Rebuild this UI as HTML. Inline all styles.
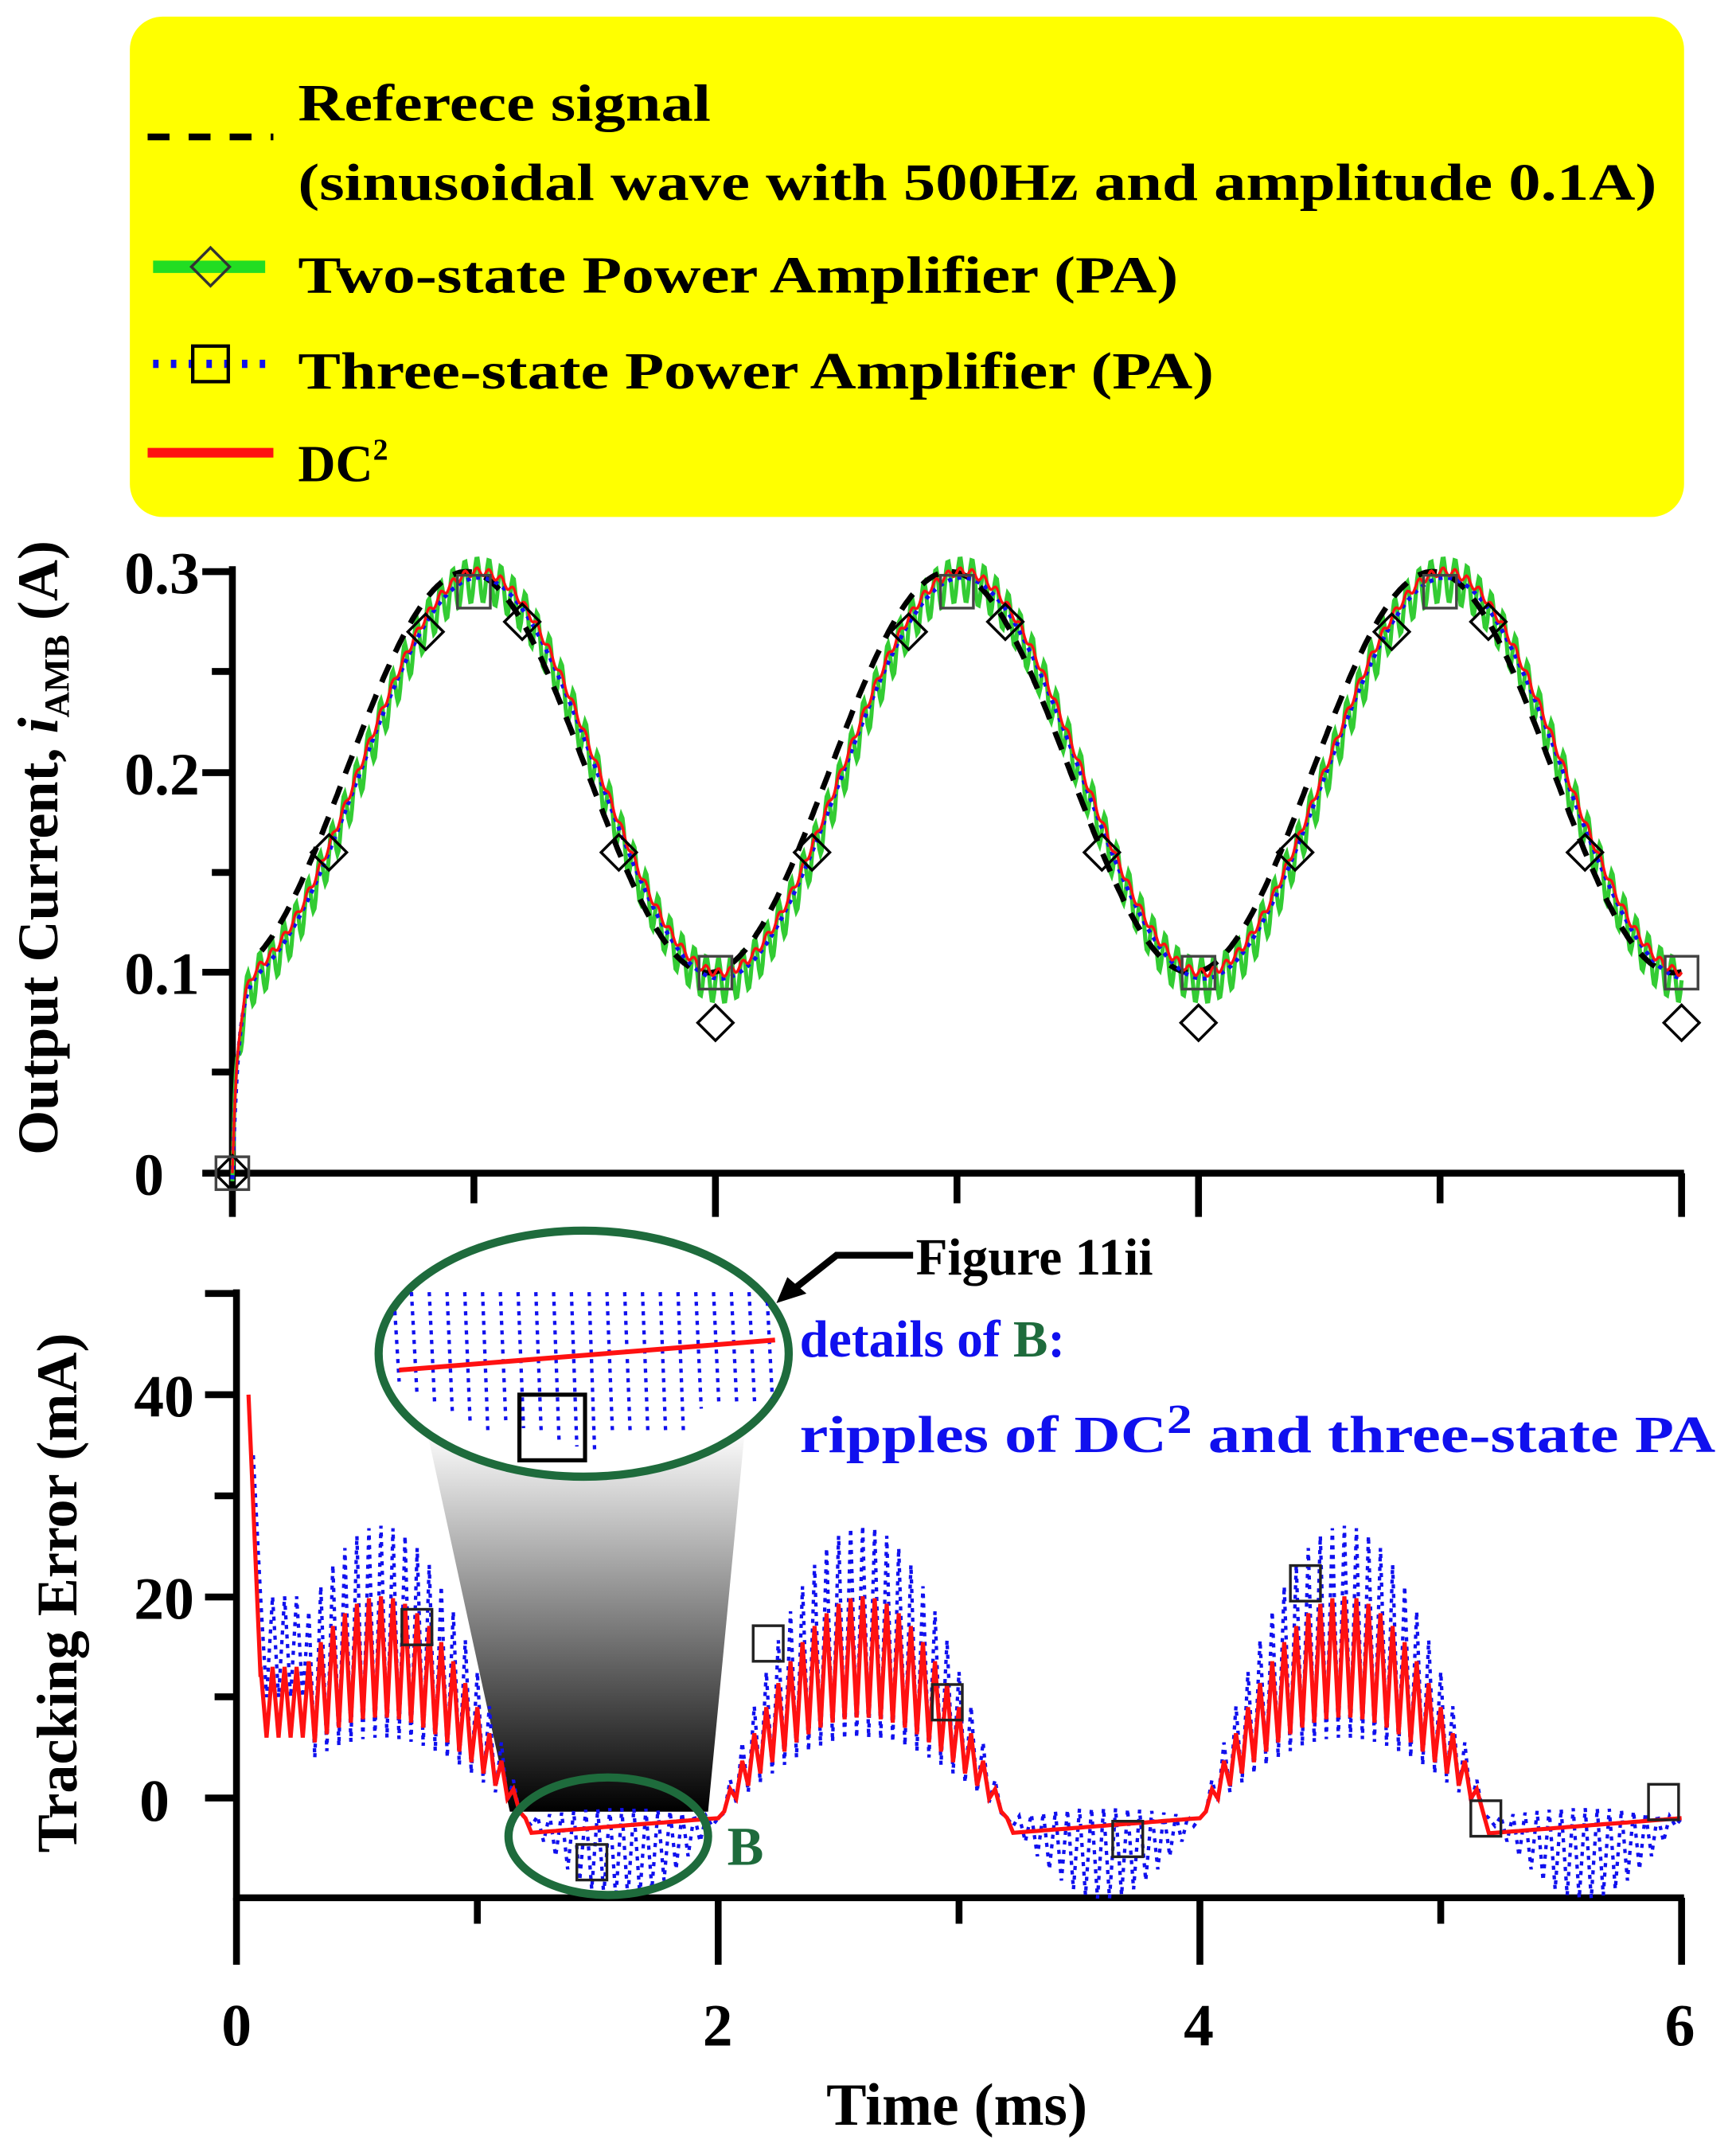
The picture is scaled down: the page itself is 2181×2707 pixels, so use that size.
<!DOCTYPE html>
<html><head><meta charset="utf-8"><style>
html,body{margin:0;padding:0;background:#fff;}
svg{display:block;}
text{font-family:"Liberation Serif",serif;font-weight:bold;}
</style></head><body>
<svg id="s" width="2181" height="2707" viewBox="0 0 1270 1576" xmlns="http://www.w3.org/2000/svg">
<defs>
<linearGradient id="g" x1="0" y1="0" x2="0" y2="1"><stop offset="0" stop-color="#fff"/><stop offset="1" stop-color="#000"/></linearGradient>
<clipPath id="ce"><ellipse cx="427" cy="990" rx="148" ry="88"/></clipPath>
</defs>
<rect x="95" y="12" width="1137" height="366" rx="24" fill="#ffff00"/>
<line x1="108" y1="100" x2="200" y2="100" stroke="#000" stroke-width="5" stroke-dasharray="16 14"/>
<text x="218" y="88" font-size="38" textLength="302" lengthAdjust="spacingAndGlyphs">Referece signal</text>
<text x="218" y="146" font-size="38" textLength="994" lengthAdjust="spacingAndGlyphs">(sinusoidal wave with 500Hz and amplitude 0.1A)</text>
<line x1="112" y1="195" x2="194" y2="195" stroke="#22dd22" stroke-width="9"/>
<polygon points="154,181 168,195 154,209 140,195" fill="none" stroke="#333" stroke-width="2"/>
<text x="218" y="214" font-size="38" textLength="644" lengthAdjust="spacingAndGlyphs">Two-state Power Amplifier (PA)</text>
<line x1="112" y1="266" x2="196" y2="266" stroke="#1010ee" stroke-width="6" stroke-dasharray="4 9"/>
<rect x="141" y="253" width="26" height="26" fill="none" stroke="#000" stroke-width="2.5"/>
<text x="218" y="284" font-size="38" textLength="670" lengthAdjust="spacingAndGlyphs">Three-state Power Amplifier (PA)</text>
<line x1="108" y1="331" x2="200" y2="331" stroke="#ff1111" stroke-width="7"/>
<text x="218" y="352" font-size="38">DC<tspan font-size="22" dy="-16">2</tspan></text>

<g stroke="#000" stroke-width="5" fill="none">
<line x1="170" y1="414" x2="170" y2="860"/>
<line x1="168" y1="858" x2="1232" y2="858"/>
<line x1="148" y1="418" x2="170" y2="418"/><line x1="148" y1="565" x2="170" y2="565"/><line x1="148" y1="711" x2="170" y2="711"/><line x1="148" y1="858" x2="170" y2="858"/>
<line x1="155" y1="491" x2="170" y2="491"/><line x1="155" y1="638" x2="170" y2="638"/><line x1="155" y1="784" x2="170" y2="784"/>
</g>
<g id="tt" stroke="#000" stroke-width="5"></g>
<g font-size="44" text-anchor="end">
<text x="146" y="434">0.3</text><text x="146" y="581">0.2</text><text x="146" y="727">0.1</text><text x="120" y="874">0</text>
</g>
<text transform="translate(42,620) rotate(-90)" font-size="42" text-anchor="middle">Output Current, <tspan font-style="italic">i</tspan><tspan font-size="26" dy="8">AMB</tspan><tspan dy="-8"> (A)</tspan></text>
<g id="topc"></g>

<g stroke="#000" stroke-width="5" fill="none">
<line x1="173" y1="943" x2="173" y2="1390"/>
<line x1="171" y1="1388" x2="1232" y2="1388"/>
<line x1="150" y1="1020" x2="173" y2="1020"/><line x1="150" y1="1168" x2="173" y2="1168"/><line x1="150" y1="1315" x2="173" y2="1315"/><line x1="150" y1="946" x2="173" y2="946"/>
<line x1="157" y1="1094" x2="173" y2="1094"/><line x1="157" y1="1241" x2="173" y2="1241"/>
</g>
<g id="bt" stroke="#000" stroke-width="5"></g>
<g font-size="44" text-anchor="end">
<text x="142" y="1036">40</text><text x="142" y="1184">20</text><text x="124" y="1332">0</text>
</g>
<g font-size="44" text-anchor="middle">
<text x="173" y="1496">0</text><text x="525" y="1496">2</text><text x="877" y="1496">4</text><text x="1229" y="1496">6</text>
<text x="700" y="1554">Time (ms)</text>
</g>
<text transform="translate(56,1165) rotate(-90)" font-size="42" text-anchor="middle">Tracking Error (mA)</text>

<polygon points="312,1045 545,1045 518,1325 373,1325" fill="url(#g)"/>
<g id="botc"></g>
<ellipse cx="445" cy="1343" rx="73" ry="43" fill="none" stroke="#1e6b3c" stroke-width="6"/>
<ellipse cx="427" cy="990" rx="150" ry="90" fill="#fff" stroke="#1e6b3c" stroke-width="6"/>
<g id="zoom" clip-path="url(#ce)"></g>
<text x="532" y="1364" font-size="40" fill="#1e6b3c">B</text>
<text x="670" y="932" font-size="38">Figure 11ii</text>
<polyline points="668,918 612,918 578,945" fill="none" stroke="#000" stroke-width="5"/>
<polygon points="568,953 576,934 590,946" fill="#000"/>
<text x="585" y="992" font-size="38" fill="#1010ee">details of <tspan fill="#1e6b3c">B</tspan>:</text>
<text x="585" y="1062" font-size="38" fill="#1010ee" textLength="670" lengthAdjust="spacingAndGlyphs">ripples of DC<tspan font-size="30" dy="-14">2</tspan><tspan dy="14"> and three-state PA</tspan></text>
</svg>
<script>
var NS="http://www.w3.org/2000/svg";
function el(p,tag,a){var e=document.createElementNS(NS,tag);for(var k in a)e.setAttribute(k,a[k]);document.getElementById(p).appendChild(e);return e;}
function P(pts){return 'M'+pts.map(function(p){return p[0].toFixed(1)+','+p[1].toFixed(1)}).join('L');}
for(var i=0;i<=6;i++){var x=170+i*176.7;el('tt','line',{x1:x,y1:858,x2:x,y2:i%2?880:890});}
for(var i=0;i<=6;i++){var x=173+i*176.2;el('bt','line',{x1:x,y1:1388,x2:x,y2:i%2?1407:1437});}
var TX=function(t){return 170+t*176.7},TY=function(v){return 858-v*1466.7};
function ref(t){return 0.2-0.1*Math.cos(Math.PI*t);}
function out(t){return ref(t-0.02)*(1-Math.exp(-t/0.025));}
var g=[],b=[],r=[],d=[];
for(var t=0;t<=6.0001;t+=0.005){
 var o=out(t);
 g.push([TX(t),TY(o-0.004+0.011*Math.sin(2*Math.PI*20*t))]);
 b.push([TX(t),TY(o-0.003)]);
 r.push([TX(t),TY(o+0.002*Math.sin(2*Math.PI*20*t))]);
 if(t>=0.12)d.push([TX(t),TY(ref(t+0.03))]);
}
el('topc','path',{d:P(g),fill:'none',stroke:'#33cc33','stroke-width':3});
el('topc','path',{d:P(d),fill:'none',stroke:'#000','stroke-width':4,'stroke-dasharray':'14 10'});
el('topc','path',{d:P(b),fill:'none',stroke:'#1010ee','stroke-width':3,'stroke-dasharray':'3 4'});
el('topc','path',{d:P(r),fill:'none',stroke:'#ff1111','stroke-width':2});
var dm=[[0,0],[0.4,0.16],[0.8,0.27],[1.2,0.275],[1.6,0.16],[2,0.075],[2.4,0.16],[2.8,0.27],[3.2,0.275],[3.6,0.16],[4,0.075],[4.4,0.16],[4.8,0.27],[5.2,0.275],[5.6,0.16],[6,0.075]];
dm.forEach(function(p){var x=TX(p[0]),y=TY(p[1]);el('topc','polygon',{points:[x,y-13,x+13,y,x,y+13,x-13,y].join(' '),fill:'none',stroke:'#000','stroke-width':2});});
[[0,0],[1,0.29],[2,0.1],[3,0.29],[4,0.1],[5,0.29],[6,0.1]].forEach(function(p){var x=TX(p[0]),y=TY(p[1]);el('topc','rect',{x:x-12,y:y-12,width:24,height:24,fill:'none',stroke:'#444','stroke-width':2});});
var BX=function(t){return 173+t*176.2},BY=function(e){return 1315-e*7.375};
var bl=[],rl=[];
bl.push([BX(0.07),BY(34)]);rl.push([BX(0.05),BY(40)]);rl.push([BX(0.1),BY(12)]);
var k=0;
for(var t=0.1;t<=6.0001;t+=0.025,k++){
 var ph=t%2,hi=k%2==0,be,re;
 if(ph<1.2){var s=Math.sin(Math.PI*ph/1.2);
  be=hi?(-2+29*s):(-2+8*s);
  re=hi?(-2+22*s):(-2+10*s);
  if(t<0.3){be=hi?Math.max(be,20):Math.max(be,10);re=hi?Math.max(re,13):Math.max(re,6);}
 }else{var s2=Math.sin(Math.PI*(ph-1.2)/0.8);
  be=hi?-2+1*s2:(-2-8*s2);
  re=-3.5+1.5*(ph-1.2)/0.8;
 }
 bl.push([BX(t),BY(be)]);rl.push([BX(t),BY(re)]);
}
el('botc','path',{d:P(bl),fill:'none',stroke:'#1010ee','stroke-width':2.5,'stroke-dasharray':'3 4'});
el('botc','path',{d:P(rl),fill:'none',stroke:'#ff1111','stroke-width':3});
[[305,1190],[562,1202],[693,1245],[825,1345],[955,1158],[1087,1330],[1217,1318],[433,1362]].forEach(function(p){el('botc','rect',{x:p[0]-11,y:p[1]-13,width:22,height:26,fill:'none',stroke:'#222','stroke-width':2});});
for(var i=0;i<22;i++){var x=288+i*13;var y2=1005+40*Math.sin(Math.PI*(i+1)/23)+((i*37)%17);
 el('zoom','line',{x1:x,y1:945,x2:x+4,y2:y2,stroke:'#1010ee','stroke-width':2.5,'stroke-dasharray':'3 4'});}
el('zoom','line',{x1:292,y1:1002,x2:567,y2:980,stroke:'#ff1111','stroke-width':3.5});
el('zoom','rect',{x:380,y:1020,width:48,height:48,fill:'none',stroke:'#000','stroke-width':3});
</script>
</body></html>
